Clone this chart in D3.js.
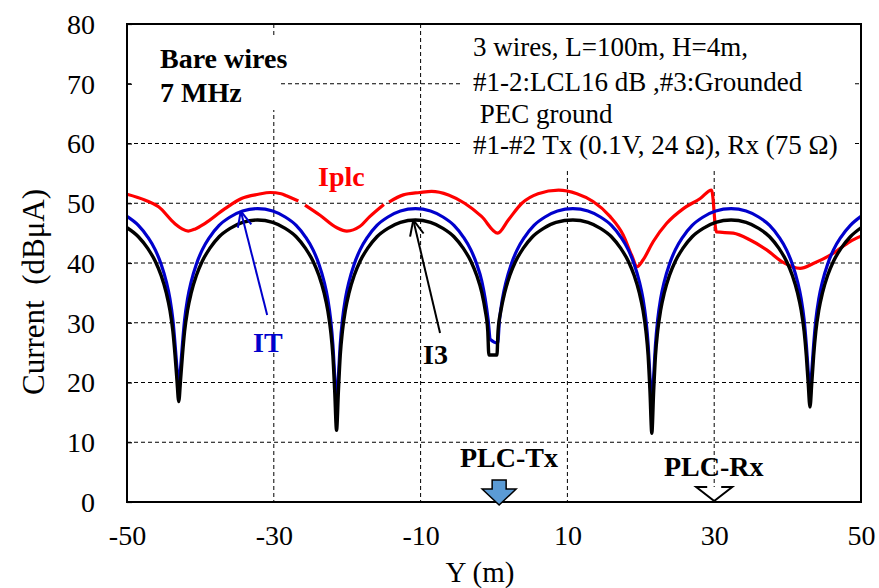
<!DOCTYPE html>
<html><head><meta charset="utf-8">
<script src="https://cdn.jsdelivr.net/npm/d3@7/dist/d3.min.js"></script>
<style>
body{margin:0;background:#fff;}
text{font-family:"Liberation Serif","Times New Roman",serif;}
</style></head>
<body><svg id="c" width="879" height="588"></svg>
<script>
// ---------- data ----------
const xTicks = [-50,-30,-10,10,30,50];
const yTicks = [0,10,20,30,40,50,60,70,80];

const xI3 = [-50,-48.45,-47.15,-46.15,-45.35,-44.65,-44.15,-43.75,-43.45,-43.2,-42.95,-42.7,-42.45,-42.15,-41.75,-41.25,-40.55,-39.75,-38.75,-37.45,-35.95,-34.25,-32.2,
 -30.15,-28.45,-26.95,-25.65,-24.65,-23.85,-23.15,-22.65,-22.25,-21.95,-21.7,-21.45,-21.2,-20.95,-20.65,-20.25,-19.75,-19.05,-18.25,-17.25,-15.95,-14.45,-12.75,-10.7,
 -8.65,-6.95,-5.45,-4.15,-3.15,-2.35,-1.65,-1.2,-0.85,-0.7,0.4,0.55,0.95,1.45,2.15,2.95,3.95,5.25,6.75,8.45,10.75,
 12.8,14.5,16.0,17.3,18.3,19.1,19.8,20.3,20.7,21.0,21.25,21.5,21.75,22.0,22.3,22.7,23.2,23.9,24.7,25.7,27.0,28.5,30.2,32.3,
 34.35,36.05,37.55,38.85,39.85,40.65,41.35,41.85,42.25,42.55,42.8,43.05,43.3,43.55,43.85,44.25,44.75,45.45,46.25,47.25,48.55,50];
const vI3 = [45.9,44.4,42.4,40.3,37.9,35.0,32.1,28.6,24.5,20.5,16.8,20.5,24.5,28.6,32.1,35.0,37.9,40.3,42.4,44.4,45.8,46.8,47.2,
 46.8,45.8,44.4,42.4,40.3,37.9,35.0,32.1,28.6,24.5,18.5,12.0,18.5,24.5,28.6,32.1,35.0,37.9,40.3,42.4,44.4,45.8,46.8,47.2,
 46.8,45.8,44.4,42.4,40.3,37.9,35.0,32.1,28.6,24.6,24.6,28.6,32.1,35.0,37.9,40.3,42.4,44.4,45.8,46.8,47.2,
 46.8,45.8,44.4,42.4,40.3,37.9,35.0,32.1,28.6,24.5,18.5,11.5,18.5,24.5,28.6,32.1,35.0,37.9,40.3,42.4,44.4,45.8,46.8,47.2,
 46.8,45.8,44.4,42.4,40.3,37.9,35.0,32.1,28.6,24.5,20.0,15.9,20.0,24.5,28.6,32.1,35.0,37.9,40.3,42.4,44.4,45.9];

const xIT = [-50,-48.45,-47.15,-46.15,-45.35,-44.65,-44.15,-43.75,-43.45,-43.2,-42.95,-42.7,-42.45,-42.15,-41.75,-41.25,-40.55,-39.75,-38.75,-37.45,-35.95,-34.25,-32.2,
 -30.15,-28.45,-26.95,-25.65,-24.65,-23.85,-23.15,-22.65,-22.25,-21.95,-21.7,-21.45,-21.2,-20.95,-20.65,-20.25,-19.75,-19.05,-18.25,-17.25,-15.95,-14.45,-12.75,-10.7,
 -8.65,-6.95,-5.45,-4.15,-3.15,-2.35,-1.65,-1.2,-0.8,-0.5,0.5,0.75,1.15,1.65,2.35,3.15,4.15,5.45,6.95,8.65,10.75,
 12.8,14.5,16.0,17.3,18.3,19.1,19.8,20.3,20.7,21.0,21.25,21.5,21.75,22.0,22.3,22.7,23.2,23.9,24.7,25.7,27.0,28.5,30.2,32.3,
 34.35,36.05,37.55,38.85,39.85,40.65,41.35,41.85,42.25,42.55,42.8,43.05,43.3,43.55,43.85,44.25,44.75,45.45,46.25,47.25,48.55,50];
const vIT = [47.8,46.3,44.3,42.2,39.8,36.9,34.0,30.5,26.4,22.5,19.5,22.5,26.4,30.5,34.0,36.9,39.8,42.2,44.3,46.3,47.7,48.7,49.1,
 48.7,47.7,46.3,44.3,42.2,39.8,36.9,34.0,30.5,26.4,21.0,16.0,21.0,26.4,30.5,34.0,36.9,39.8,42.2,44.3,46.3,47.7,48.7,49.1,
 48.7,47.7,46.3,44.3,42.2,39.8,36.9,34.0,30.5,27.2,26.6,30.5,34.0,36.9,39.8,42.2,44.3,46.3,47.7,48.7,49.1,
 48.7,47.7,46.3,44.3,42.2,39.8,36.9,34.0,30.5,26.4,21.0,16.0,21.0,26.4,30.5,34.0,36.9,39.8,42.2,44.3,46.3,47.7,48.7,49.1,
 48.7,47.7,46.3,44.3,42.2,39.8,36.9,34.0,30.5,26.4,22.0,18.0,22.0,26.4,30.5,34.0,36.9,39.8,42.2,44.3,46.3,47.8];

const xIplc = [-50,-47.5,-45.7,-43.5,-42.5,-41.65,-40.7,-39.4,-36.65,-34.4,-32.1,-30.5,-29.0,-28.2,-26.65,-26.2,
 -25.75,-23.7,-21.4,-20.05,-18.3,-16.9,-15.0,-14.6,
 -14.3,-12.35,-10.1,-8.5,-6.2,-4.0,-1.7,0.5,1.95,3.8,6.0,8.8,11.3,13.5,15.8,17.6,18.75,19.5,20.3,21.7,23.5,25.8,28.1,29.65,
 30.3,32.6,34.9,37.15,39.4,41.7,43.5,46.2,48.5,50];
const vIplc = [51.5,50.5,49.4,46.6,45.7,45.35,45.7,46.6,49.1,50.8,51.5,51.8,51.6,51.2,50.4,null,
 49.7,48.0,45.9,45.35,46.1,47.8,49.8,null,
 50.2,51.4,51.8,52.0,51.4,50.0,47.8,45.0,47.2,50.0,51.6,52.2,51.6,50.3,47.8,44.7,41.3,39.4,40.5,43.6,46.6,49.1,50.8,52.2,
 45.2,45.0,43.85,42.2,40.1,39.1,39.9,41.6,43.6,44.5];

// annotation arrows: [tailX, tailY, tipX, tipY] in data units
const arrowIT = [-30.9, 31.3, -34.5, 48.7];
const arrowI3 = [-7.35, 28.3, -11.0, 47.2];
const txPos = 0.7, rxPos = 30;

// ---------- drawing ----------
const svg = d3.select("#c");
const L=127, R=861, T=24, B=502;
const x = d3.scaleLinear().domain([-50,50]).range([L,R]);
const y = d3.scaleLinear().domain([0,80]).range([B,T]);
const serif = '"Liberation Serif","Times New Roman",serif';

// grid
const g = svg.append("g");
g.selectAll("line.hg").data(yTicks.filter(v=>v>0&&v<80)).join("line")
 .attr("x1",L).attr("x2",R).attr("y1",d=>y(d)).attr("y2",d=>y(d))
 .attr("stroke","#000").attr("stroke-width",1).attr("stroke-dasharray","4,3");
g.selectAll("line.vg").data(xTicks.filter(v=>v>-50&&v<50)).join("line")
 .attr("y1",T).attr("y2",B).attr("x1",d=>x(d)).attr("x2",d=>x(d))
 .attr("stroke","#000").attr("stroke-width",1).attr("stroke-dasharray","4,3");

// white text boxes
svg.append("rect").attr("x",134).attr("y",36).attr("width",146).attr("height",74).attr("fill","#fff");
svg.append("rect").attr("x",463).attr("y",25).attr("width",390).attr("height",146).attr("fill","#fff");

function txt(s,xx,yy,opt={}){
  const t = svg.append("text").attr("x",xx).attr("y",yy).text(s)
   .attr("font-size",opt.size||22).attr("font-weight",opt.bold?"bold":"normal")
   .attr("fill",opt.color||"#000").attr("text-anchor",opt.anchor||"start");
  if(opt.space) t.attr("xml:space","preserve").style("white-space","pre");
  return t;
}
txt("Bare wires",160,68,{size:28,bold:true});
txt("7 MHz",160,102,{size:28,bold:true});
txt("3 wires, L=100m, H=4m,",473,56,{size:27});
txt("#1-2:LCL16 dB ,#3:Grounded",473,91,{size:27});
txt(" PEC ground",473,123,{size:27,space:true});
txt("#1-#2 Tx (0.1V, 24 Ω), Rx (75 Ω)",473,154,{size:27});

// curves
const line = d3.line().defined(d=>d[1]!==null).x(d=>x(d[0])).y(d=>y(d[1])).curve(d3.curveMonotoneX);
const sRed = xIplc.map((v,i)=>[v,vIplc[i]]);
const sBlue = xIT.map((v,i)=>[v,vIT[i]]);
const sBlack = xI3.map((v,i)=>[v,vI3[i]]);
svg.append("path").attr("d",line(sRed)).attr("fill","none").attr("stroke","#ff0000").attr("stroke-width",3.2).attr("stroke-linejoin","round");
svg.append("path").attr("d",line(sBlue)).attr("fill","none").attr("stroke","#0000cc").attr("stroke-width",3.2).attr("stroke-linejoin","round");
svg.append("path").attr("d",line(sBlack)).attr("fill","none").attr("stroke","#000").attr("stroke-width",3.4).attr("stroke-linejoin","round");

// series labels
txt("Iplc",318,186,{size:28,bold:true,color:"#ff0000"});
txt("IT",253,352,{size:28,bold:true,color:"#0000cc"});
txt("I3",423,364,{size:28,bold:true});

function arrow(a,color){
  const x1=x(a[0]),y1=y(a[1]),x2=x(a[2]),y2=y(a[3]);
  svg.append("line").attr("x1",x1).attr("y1",y1).attr("x2",x2).attr("y2",y2).attr("stroke",color).attr("stroke-width",2);
  const ang=Math.atan2(y1-y2,x1-x2), len=17, sp=0.42;
  [ang-sp,ang+sp].forEach(a2=>{
    svg.append("line").attr("x1",x2).attr("y1",y2).attr("x2",x2+len*Math.cos(a2)).attr("y2",y2+len*Math.sin(a2))
     .attr("stroke",color).attr("stroke-width",2);
  });
}
arrow(arrowIT,"#0000cc");
arrow(arrowI3,"#000");

// frame & axes
svg.append("rect").attr("x",L).attr("y",T).attr("width",R-L).attr("height",B-T).attr("fill","none").attr("stroke","#000").attr("stroke-width",2);
const ay = svg.append("g").attr("transform",`translate(${L},0)`)
 .call(d3.axisLeft(y).tickValues(yTicks).tickSize(-5).tickPadding(32).tickFormat(d=>String(d)));
ay.select(".domain").remove();
ay.selectAll("line").attr("stroke","#000").attr("stroke-width",1.2);
ay.selectAll("text").attr("font-family",serif).attr("font-size",28).attr("fill","#000").attr("dy","0.33em");
const ax = svg.append("g").attr("transform",`translate(0,${B})`)
 .call(d3.axisBottom(x).tickValues(xTicks).tickSize(0).tickPadding(23).tickFormat(d=>String(d)));
ax.select(".domain").remove();
ax.selectAll("text").attr("font-family",serif).attr("font-size",28).attr("fill","#000");

// PLC markers
txt("PLC-Tx",460,467,{size:28,bold:true});
txt("PLC-Rx",664,476,{size:28,bold:true});
const tx = x(txPos);
svg.append("path").attr("d",`M${tx-7},480 L${tx+7},480 L${tx+7},489 L${tx+17},489 L${tx},505 L${tx-17},489 L${tx-7},489 Z`)
 .attr("fill","#5b9bd5").attr("stroke","#000").attr("stroke-width",1.5);
const rx = x(rxPos);
svg.append("path").attr("d",`M${rx-7},487 L${rx-18},487 L${rx},501 L${rx+18},487 L${rx+7},487`)
 .attr("fill","#fff").attr("stroke","#000").attr("stroke-width",2);

// axis titles
txt("Y (m)",480,582,{size:29,anchor:"middle"});
svg.append("text").attr("transform","translate(44,292) rotate(-90)").attr("text-anchor","middle")
 .attr("font-size",31).attr("xml:space","preserve").style("white-space","pre").text("Current  (dBμA)");
</script></body></html>
